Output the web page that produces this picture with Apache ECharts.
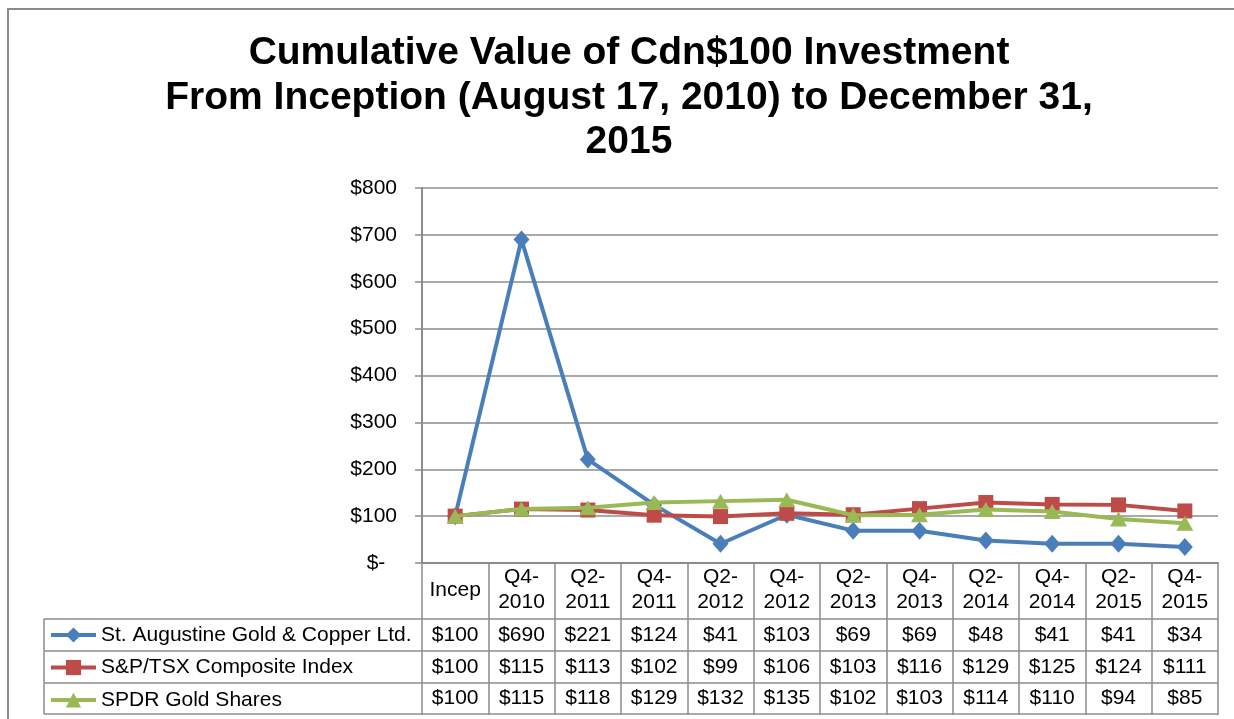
<!DOCTYPE html>
<html lang="en">

<head>
  <meta charset="UTF-8">
  <title>Cumulative Value of Cdn$100 Investment</title>
  <script src="https://cdn.jsdelivr.net/npm/echarts@6/dist/echarts.min.js"></script>
  <style>
    html, body { margin: 0; padding: 0; background: #fff; }
    #main { width: 1234px; height: 719px; }
  </style>
</head>

<body>
  <div id="main"></div>

  <script>
    // 数据
    var categories = ['Incep', 'Q4-\n2010', 'Q2-\n2011', 'Q4-\n2011', 'Q2-\n2012', 'Q4-\n2012',
      'Q2-\n2013', 'Q4-\n2013', 'Q2-\n2014', 'Q4-\n2014', 'Q2-\n2015', 'Q4-\n2015']
    var seriesNames = ['St. Augustine Gold & Copper Ltd.', 'S&P/TSX Composite Index', 'SPDR Gold Shares']
    var augustine = [100, 690, 221, 124, 41, 103, 69, 69, 48, 41, 41, 34]
    var tsx = [100, 115, 113, 102, 99, 106, 103, 116, 129, 125, 124, 111]
    var spdr = [100, 115, 118, 129, 132, 135, 102, 103, 114, 110, 94, 85]
    var yTicks = [0, 100, 200, 300, 400, 500, 600, 700, 800]

    var allData = [augustine, tsx, spdr]
    var colors = ['#4A7EBB', '#BE4B48', '#98B954']
    var symbols = ['diamond', 'rect', 'triangle']
    var symbolSizes = [[16, 18], 15, [17, 15]]

    var font = '"Liberation Sans", Arial, sans-serif'
    var gridColor = '#8c8c8c'

    var mCharts = echarts.init(document.getElementById('main'))

    // 表格行：每行一条额外的 x 轴，只显示标签
    var rowCenters = [635, 667, 698.5]
    var axisY = 563
    var valueAxes = allData.map(function (arr, k) {
      return {
        type: 'category',
        gridIndex: 0,
        position: 'bottom',
        offset: rowCenters[k] - axisY,
        data: categories,
        axisLine: { show: false },
        axisTick: { show: false },
        axisLabel: {
          interval: 0,
          margin: 0,
          verticalAlign: 'middle',
          color: '#000',
          fontFamily: font,
          fontSize: 21,
          formatter: function (v, i) { return '$' + arr[i] }
        }
      }
    })

    var option = {
      animation: false,
      backgroundColor: '#fff',
      title: {
        text: 'Cumulative Value of Cdn$100 Investment\nFrom Inception (August 17, 2010) to December 31,\n2015',
        left: 624,
        textAlign: 'center',
        top: 26,
        textStyle: {
          fontFamily: font,
          fontSize: 39,
          fontWeight: 'bold',
          color: '#000',
          lineHeight: 44.5
        }
      },
      legend: {
        orient: 'vertical',
        left: 49,
        top: 624,
        padding: 0,
        itemGap: 10.5,
        itemWidth: 45,
        itemHeight: 19,
        data: seriesNames,
        lineStyle: { width: 4 },
        textStyle: { fontFamily: font, fontSize: 21, color: '#000', lineHeight: 22 }
      },
      grid: { left: 422, right: 16, top: 188, bottom: 719 - axisY, containLabel: false },
      xAxis: [{
        type: 'category',
        data: categories,
        boundaryGap: true,
        axisLine: { lineStyle: { color: gridColor, width: 2 } },
        axisTick: { show: true, length: 152, lineStyle: { color: gridColor, width: 1.5 } },
        axisLabel: {
          interval: 0,
          margin: 27,
          verticalAlign: 'middle',
          color: '#000',
          fontFamily: font,
          fontSize: 21,
          lineHeight: 25
        }
      }].concat(valueAxes),
      yAxis: {
        type: 'value',
        min: yTicks[0],
        max: yTicks[yTicks.length - 1],
        interval: 100,
        axisLine: { show: true, lineStyle: { color: gridColor, width: 2 } },
        axisTick: { show: true, length: 7, lineStyle: { color: gridColor, width: 1.5 } },
        splitLine: { lineStyle: { color: gridColor, width: 1.5 } },
        axisLabel: {
          margin: 25,
          color: '#000',
          fontFamily: font,
          fontSize: 21,
          formatter: function (v) { return v === 0 ? '$-  ' : '$' + v }
        }
      },
      series: allData.map(function (arr, k) {
        return {
          name: seriesNames[k],
          type: 'line',
          data: arr,
          symbol: symbols[k],
          symbolSize: symbolSizes[k],
          lineStyle: { color: colors[k], width: 4 },
          itemStyle: { color: colors[k] },
          z: 2 + k
        }
      }),
      graphic: [
        // 外框
        {
          type: 'rect', shape: { x: 8, y: 9, width: 1240, height: 730 },
          style: { fill: null, stroke: '#8a8a8a', lineWidth: 2 }, silent: true
        },
        // 表格横线与左边线
        {
          type: 'group', silent: true,
          children: [619, 651, 683, 714].map(function (y) {
            return {
              type: 'line', shape: { x1: 44, y1: y, x2: 1218, y2: y },
              style: { stroke: gridColor, lineWidth: 1.5 }
            }
          }).concat([{
            type: 'line', shape: { x1: 44, y1: 619, x2: 44, y2: 714 },
            style: { stroke: gridColor, lineWidth: 1.5 }
          }])
        }
      ]
    }

    mCharts.setOption(option)
  </script>
</body>

</html>
